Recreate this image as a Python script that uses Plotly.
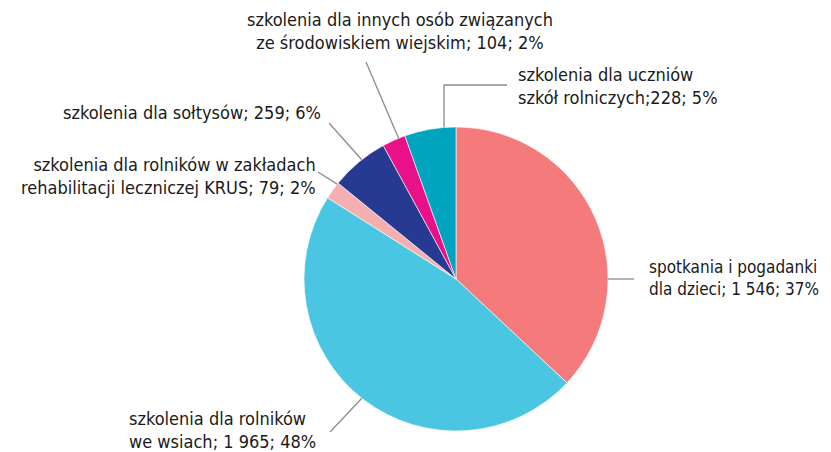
import math
import plotly.graph_objects as go

# ---- data ----
categories = [
    "spotkania i pogadanki dla dzieci",
    "szkolenia dla rolników we wsiach",
    "szkolenia dla rolników w zakładach rehabilitacji leczniczej KRUS",
    "szkolenia dla sołtysów",
    "szkolenia dla innych osób związanych ze środowiskiem wiejskim",
    "szkolenia dla uczniów szkół rolniczych",
]
values = [1546, 1965, 79, 259, 104, 228]
label_texts = [
    "spotkania i pogadanki<br>dla dzieci; 1 546; 37%",
    "szkolenia dla rolników<br>we wsiach; 1 965; 48%",
    "szkolenia dla rolników w zakładach<br>rehabilitacji leczniczej KRUS; 79; 2%",
    "szkolenia dla sołtysów; 259; 6%",
    "szkolenia dla innych osób związanych<br>ze środowiskiem wiejskim; 104; 2%",
    "szkolenia dla uczniów<br>szkół rolniczych;228; 5%",
]
colors = ["#F47A7B", "#4BC6E2", "#F6AFB0", "#263A92", "#E8118A", "#00A4BF"]

# ---- layout (window pixel coordinates; page body has an 8px margin) ----
OFF = 8
W, H = 831 - OFF, 452 - OFF
CX, CY, R = 456, 279, 152   # pie centre / radius in window pixels

def px(x, y):
    return (x - OFF) / W, 1 - (y - OFF) / H

def edge(angle_deg):
    a = math.radians(angle_deg)
    return CX + R * math.sin(a), CY - R * math.cos(a)

# label placement: (x, y, xanchor, align, font size, edge angle, leader path after edge)
placements = [
    dict(x=647, y=278, xa="left", al="left", fs=17, ang=90, path=[(634, 279)]),
    dict(x=127, y=430, xa="left", al="left", fs=18, ang=218.3, path=[(330, 432)]),
    dict(x=318, y=176, xa="right", al="right", fs=18, ang=308.6, path=[(318, 172)]),
    dict(x=323, y=112, xa="right", al="right", fs=18, ang=321.7, path=[(329, 123)]),
    dict(x=400, y=31, xa="center", al="center", fs=18, ang=337.8, path=[(366, 62)]),
    dict(x=516, y=86, xa="left", al="left", fs=18, ang=355.5, path=[(444, 85), (507, 85)]),
]

x0, y1 = px(CX - R, CY - R)
x1, y0 = px(CX + R, CY + R)

fig = go.Figure(go.Pie(
    labels=categories,
    values=values,
    marker=dict(colors=colors, line=dict(color="white", width=0.6)),
    sort=False,
    direction="clockwise",
    rotation=0,
    textinfo="none",
    hoverinfo="label+value+percent",
    showlegend=False,
    domain=dict(x=[x0, x1], y=[y0, y1]),
))

for txt, p in zip(label_texts, placements):
    ax, ay = px(p["x"], p["y"])
    fig.add_annotation(x=ax, y=ay, xref="paper", yref="paper", text=txt,
                       showarrow=False, xanchor=p["xa"], yanchor="middle",
                       align=p["al"],
                       font=dict(family="DejaVu Sans Condensed, Lato, sans-serif",
                                 size=p["fs"], color="#1a1a1a"))
    pts = [edge(p["ang"])] + p["path"]
    path = "M " + " L ".join(f"{px(x, y)[0]:.5f},{px(x, y)[1]:.5f}" for x, y in pts)
    fig.add_shape(type="path", path=path, xref="paper", yref="paper",
                  line=dict(color="#8c8c8c", width=1.3))

fig.update_layout(width=W, height=H, margin=dict(l=0, r=0, t=0, b=0),
                  paper_bgcolor="white", plot_bgcolor="white")
fig.write_html("out.html")
